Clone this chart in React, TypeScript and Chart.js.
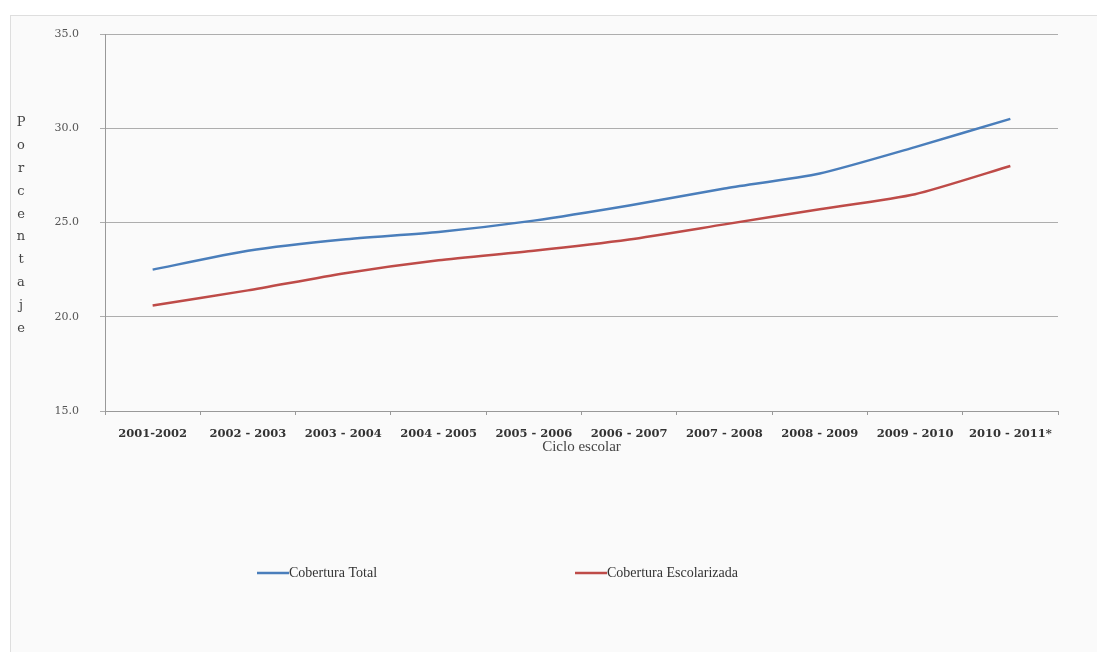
import React, { useEffect, useRef } from "react";
import { Chart, registerables } from "chart.js";

Chart.register(...registerables);

const categories = [
  "2001-2002",
  "2002 - 2003",
  "2003 - 2004",
  "2004 - 2005",
  "2005 - 2006",
  "2006 - 2007",
  "2007 - 2008",
  "2008 - 2009",
  "2009 - 2010",
  "2010 - 2011*",
];
const coberturaTotal = [22.5, 23.5, 24.1, 24.5, 25.1, 25.9, 26.8, 27.6, 29.0, 30.5];
const coberturaEscolarizada = [20.6, 21.4, 22.3, 23.0, 23.5, 24.1, 24.9, 25.7, 26.5, 28.0];
const seriesNames = ["Cobertura Total", "Cobertura Escolarizada"];
const yTitle = "Porcentaje";
const xTitle = "Ciclo escolar";

const verticalTitlePlugin = {
  id: "verticalTitle",
  afterDraw(chart: any) {
    const ctx = chart.ctx;
    ctx.save();
    ctx.font = "13px 'DejaVu Serif'";
    ctx.fillStyle = "#444";
    ctx.textAlign = "center";
    ctx.textBaseline = "middle";
    const letters = yTitle.split("");
    letters.forEach((ch: string, i: number) => {
      ctx.fillText(ch, 21, 123 + i * 22.8);
    });
    ctx.restore();
  },
};

const customLegendPlugin = {
  id: "customLegend",
  afterDraw(chart: any) {
    const ctx = chart.ctx;
    ctx.save();
    ctx.font = "14px 'Liberation Serif'";
    ctx.fillStyle = "#333";
    ctx.textBaseline = "middle";
    ctx.textAlign = "left";
    const y = 573;
    chart.data.datasets.forEach((ds: any, i: number) => {
      const x = 257 + i * 318;
      ctx.strokeStyle = ds.borderColor;
      ctx.lineWidth = 2.5;
      ctx.beginPath();
      ctx.moveTo(x, y);
      ctx.lineTo(x + 32, y);
      ctx.stroke();
      ctx.fillText(ds.label, x + 32, y);
    });
    ctx.restore();
  },
};

export default function App() {
  const canvasRef = useRef<HTMLCanvasElement | null>(null);

  useEffect(() => {
    if (!canvasRef.current) return;
    const chart = new Chart(canvasRef.current, {
      type: "line",
      data: {
        labels: categories,
        datasets: [
          {
            label: seriesNames[0],
            data: coberturaTotal,
            borderColor: "#4A7EBB",
            backgroundColor: "#4A7EBB",
            borderWidth: 2.5,
            pointRadius: 0,
            tension: 0.2,
          },
          {
            label: seriesNames[1],
            data: coberturaEscolarizada,
            borderColor: "#BE4B48",
            backgroundColor: "#BE4B48",
            borderWidth: 2.5,
            pointRadius: 0,
            tension: 0.2,
          },
        ],
      },
      options: {
        animation: false,
        responsive: false,
        maintainAspectRatio: false,
        layout: { padding: { left: 10, right: 39, top: 34, bottom: 192 } },
        plugins: {
          legend: { display: false },
          tooltip: { enabled: false },
        },
        scales: {
          x: {
            type: "category",
            offset: true,
            afterFit: (scale: any) => {
              scale.height = 49;
            },
            grid: {
              display: true,
              offset: true,
              drawOnChartArea: false,
              drawTicks: true,
              tickLength: 4,
              color: "#999",
            },
            border: { display: true, color: "#999", width: 1 },
            ticks: {
              color: "#333",
              font: { family: "'DejaVu Serif'", size: 11.5, weight: "bold" },
              padding: 12,
              maxRotation: 0,
              autoSkip: false,
            },
            title: {
              display: true,
              text: xTitle,
              color: "#444",
              font: { family: "'Liberation Serif'", size: 15 },
              padding: { top: 0, bottom: 4 },
            },
          },
          y: {
            min: 15,
            max: 35,
            afterFit: (scale: any) => {
              scale.width = 95;
            },
            grid: {
              color: "#adadad",
              lineWidth: 1,
              tickLength: 5,
              drawTicks: true,
            },
            border: { display: true, color: "#999", width: 1 },
            ticks: {
              stepSize: 5,
              color: "#555",
              font: { family: "'DejaVu Serif'", size: 11 },
              padding: 21,
              callback: (v: any) => Number(v).toFixed(1),
            },
          },
        },
      },
      plugins: [verticalTitlePlugin, customLegendPlugin],
    });
    return () => chart.destroy();
  }, []);

  return (
    <div style={{ position: "fixed", left: 0, top: 0, width: 1097, height: 652, background: "#fff", overflow: "hidden" }}>
      <div
        style={{
          position: "absolute",
          left: 10,
          top: 15,
          width: 1100,
          height: 660,
          background: "#fafafa",
          borderTop: "1px solid #dedede",
          borderLeft: "1px solid #dedede",
        }}
      />
      <canvas
        ref={canvasRef}
        width={1097}
        height={652}
        style={{ position: "absolute", left: 0, top: 0, width: 1097, height: 652 }}
      />
    </div>
  );
}
